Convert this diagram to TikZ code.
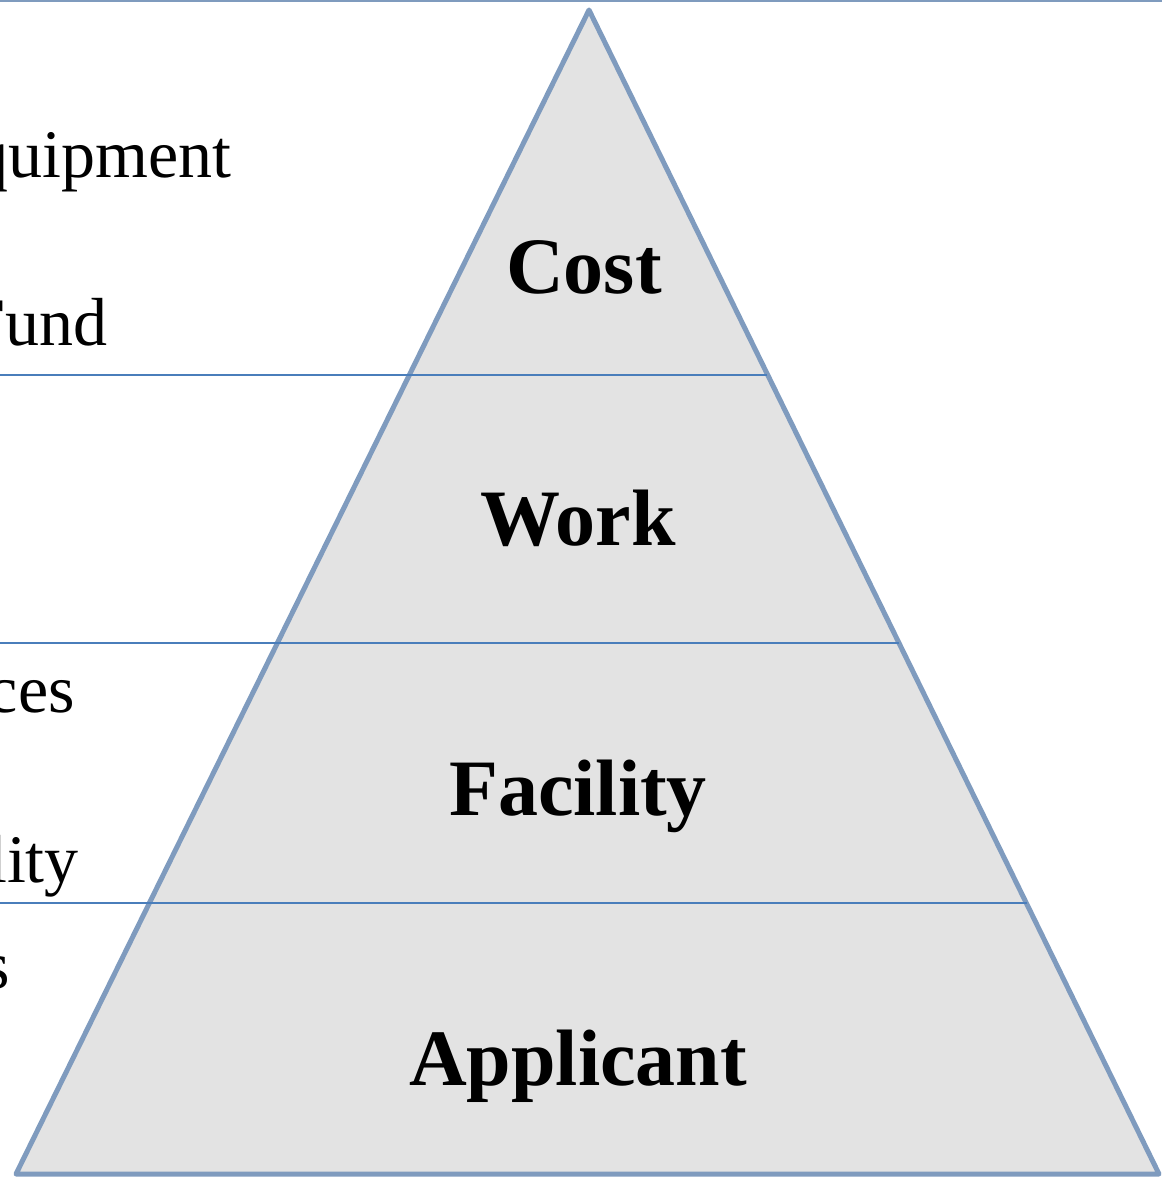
\documentclass[tikz,border=0pt]{standalone}
\usepackage{fontspec}
\setmainfont{Liberation Serif}
\usetikzlibrary{positioning}
\definecolor{edgeblue}{RGB}{127,155,190}
\definecolor{lineblue}{RGB}{74,126,187}
\definecolor{layergray}{RGB}{227,227,227}
\tikzset{
  layer/.style={font=\fontsize{80}{96}\selectfont\bfseries,anchor=base,inner sep=0pt},
  sidetext/.style={font=\fontsize{68}{80}\selectfont,anchor=base east,inner sep=0pt},
  divider/.style={draw=lineblue,line width=2pt}
}
\begin{document}
\begin{tikzpicture}[x=1pt,y=-1pt]
    \useasboundingbox (0,0) rectangle (1162,1177);
    \clip (0,0) rectangle (1162,1177);
    \draw [edgeblue,line width=2pt] (0,0.8) -- (1162,0.8);
    % the pyramid
    \draw [fill=layergray,draw=edgeblue,line width=5pt,line join=round]
      (589,10) -- (1159,1174) -- (16,1174) -- cycle;
    % layer borders
    \draw [divider] (0,375) -- (767,375);
    \draw [divider] (0,643) -- (899,643);
    \draw [divider] (0,903) -- (1027,903);
    \node (cost) at (584,293) [layer] {Cost};
    \node (work) at (578,545) [layer] {Work};
    \node (facility) at (578,815) [layer] {Facility};
    \node (applicant) at (578,1085) [layer] {Applicant};
    % texts cut at the left border
    \node (equip) at (232,178) [sidetext] {quipment};
    \node (fund) at (108,345) [sidetext] {Fund};
    \node (serv) at (75,712) [sidetext] {ces};
    \node (abil) at (79,882) [sidetext] {lity};
    \node (last) at (10,988) [sidetext] {s};
\end{tikzpicture}
\end{document}
